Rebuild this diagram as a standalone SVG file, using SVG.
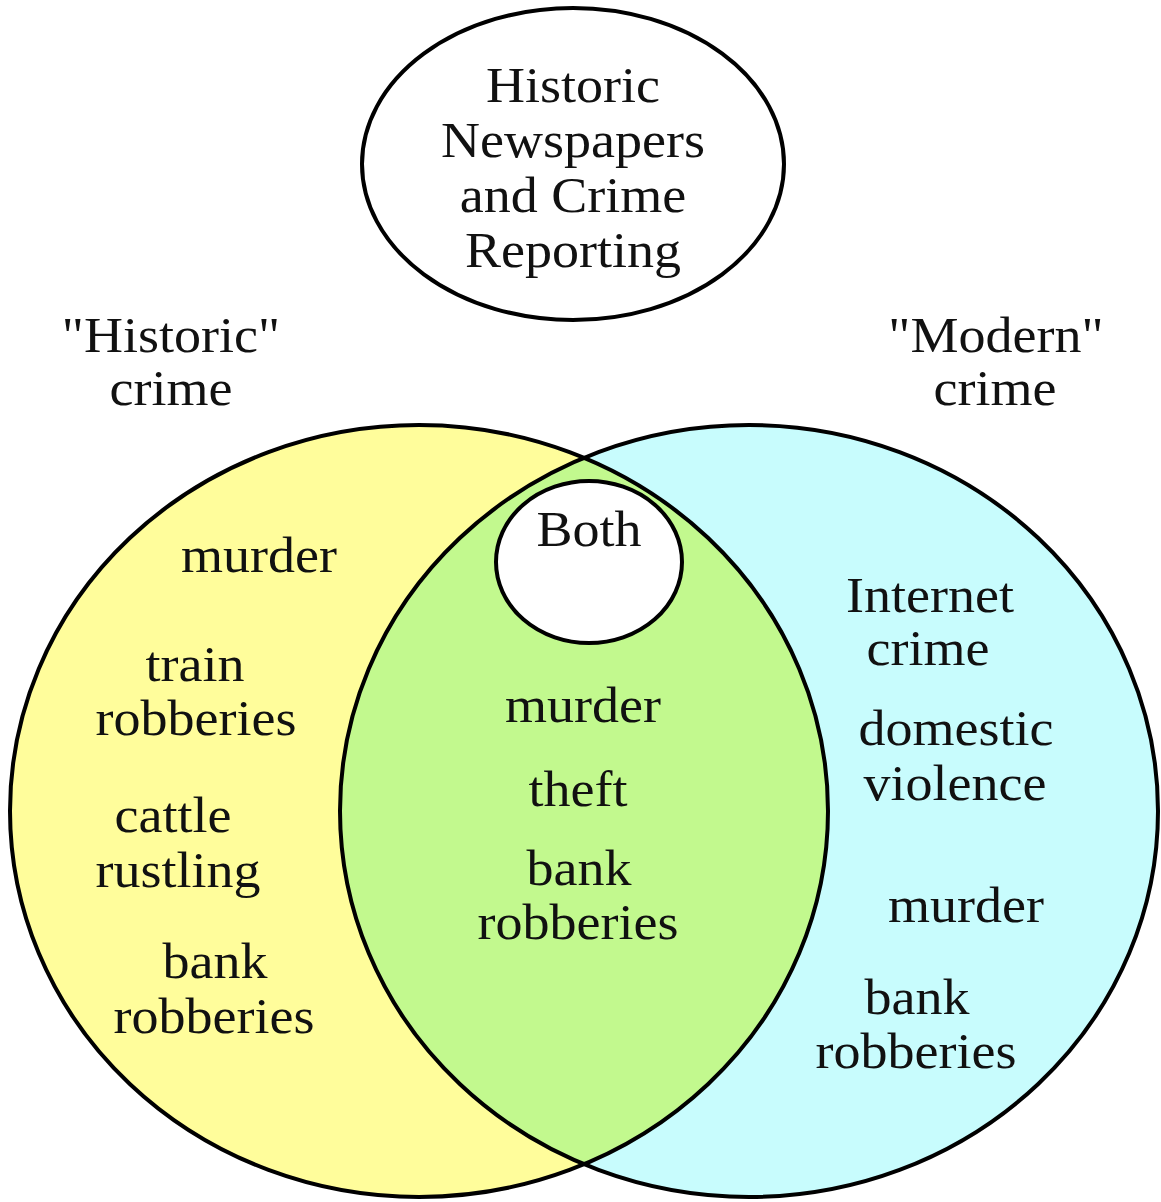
<svg xmlns="http://www.w3.org/2000/svg" width="1161" height="1202" viewBox="0 0 1161 1202">
<style>
.t{font-family:"Liberation Serif","Times New Roman",serif;font-size:51px;fill:#111;text-anchor:middle}
.o{stroke:#000;stroke-width:4;fill:none}
</style>
<defs>
<clipPath id="clipL"><ellipse cx="419" cy="811" rx="409" ry="386"/></clipPath>
</defs>
<rect width="1161" height="1202" fill="#fff"/>
<g id="historic-set">
<ellipse cx="419" cy="811" rx="409" ry="386" fill="#FFFD9B"/>
</g>
<g id="modern-set">
<ellipse cx="749" cy="811" rx="409" ry="386" fill="#C8FCFD"/>
</g>
<g id="overlap">
<ellipse cx="749" cy="811" rx="409" ry="386" fill="#C2F98E" clip-path="url(#clipL)"/>
</g>
<g id="outlines">
<ellipse class="o" cx="419" cy="811" rx="409" ry="386"/>
<ellipse class="o" cx="749" cy="811" rx="409" ry="386"/>
</g>
<g id="title">
<ellipse cx="573" cy="164" rx="211" ry="156" fill="#fff" stroke="#000" stroke-width="4"/>
<text class="t" transform="translate(573,102) scale(1.06,1)">Historic</text>
<text class="t" transform="translate(573,157) scale(1.06,1)">Newspapers</text>
<text class="t" transform="translate(573,212) scale(1.06,1)">and Crime</text>
<text class="t" transform="translate(573,267) scale(1.06,1)">Reporting</text>
</g>
<g id="historic-label">
<text class="t" transform="translate(171,352) scale(1.06,1)">"Historic"</text>
<text class="t" transform="translate(171,405) scale(1.06,1)">crime</text>
</g>
<g id="modern-label">
<text class="t" transform="translate(996,352) scale(1.06,1)">"Modern"</text>
<text class="t" transform="translate(995,405) scale(1.06,1)">crime</text>
</g>
<g id="both">
<ellipse cx="589" cy="562" rx="93" ry="81" fill="#fff" stroke="#000" stroke-width="4"/>
<text class="t" transform="translate(589,546) scale(1.06,1)">Both</text>
</g>
<g id="historic-items">
<text class="t" transform="translate(259,572) scale(1.06,1)">murder</text>
<text class="t" transform="translate(195,681) scale(1.06,1)">train</text>
<text class="t" transform="translate(196,735) scale(1.06,1)">robberies</text>
<text class="t" transform="translate(173,832) scale(1.06,1)">cattle</text>
<text class="t" transform="translate(178,887) scale(1.06,1)">rustling</text>
<text class="t" transform="translate(215,978) scale(1.06,1)">bank</text>
<text class="t" transform="translate(214,1033) scale(1.06,1)">robberies</text>
</g>
<g id="common-items">
<text class="t" transform="translate(583,722) scale(1.06,1)">murder</text>
<text class="t" transform="translate(578,806) scale(1.06,1)">theft</text>
<text class="t" transform="translate(579,885) scale(1.06,1)">bank</text>
<text class="t" transform="translate(578,939) scale(1.06,1)">robberies</text>
</g>
<g id="modern-items">
<text class="t" transform="translate(930,612) scale(1.06,1)">Internet</text>
<text class="t" transform="translate(928,665) scale(1.06,1)">crime</text>
<text class="t" transform="translate(956,745) scale(1.06,1)">domestic</text>
<text class="t" transform="translate(955,800) scale(1.06,1)">violence</text>
<text class="t" transform="translate(966,922) scale(1.06,1)">murder</text>
<text class="t" transform="translate(917,1014) scale(1.06,1)">bank</text>
<text class="t" transform="translate(916,1068) scale(1.06,1)">robberies</text>
</g>
</svg>
